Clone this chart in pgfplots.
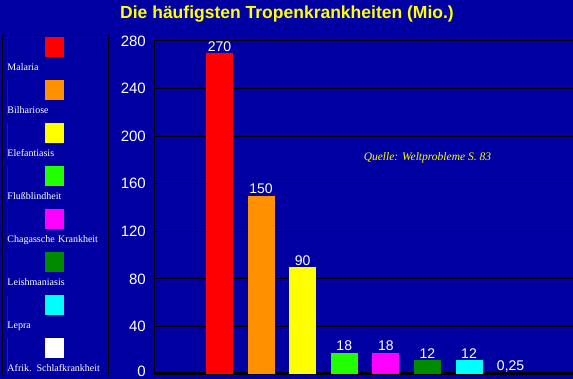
\documentclass[border=0pt]{standalone}
\usepackage{pgfplots}
\pgfplotsset{compat=1.18}
\usepackage{fontspec}
\setmainfont{Liberation Sans}
\newfontfamily\serif{Liberation Serif}
\definecolor{bg}{HTML}{0000A2}
\definecolor{cRed}{HTML}{FF0000}
\definecolor{cOrange}{HTML}{FF9100}
\definecolor{cYellow}{HTML}{FFFF00}
\definecolor{cGreen}{HTML}{22FF00}
\definecolor{cMagenta}{HTML}{FF00FF}
\definecolor{cDGreen}{HTML}{008A00}
\definecolor{cCyan}{HTML}{00FFFF}
\definecolor{cWhite}{HTML}{FFFFFF}
\pgfplotsset{
  leg/.style={legend image code/.code={%
      \path (0pt,-4.5pt) -- (0pt,31pt);
      \fill[##1,draw=none,overlay] (38pt,11pt) rectangle (57pt,31pt);}},
  barstyle/.style={fill=#1, draw=none, bar width=27pt, bar shift=0pt, leg},
}
\begin{document}
\begin{tikzpicture}[x=1pt,y=1pt]
\useasboundingbox (0,0) rectangle (573,379);
\fill[bg] (0,0) rectangle (573,379);
\node[text=cYellow, font=\bfseries\fontsize{17.5}{20}\selectfont] at (287,364.5) {Die häufigsten Tropenkrankheiten (Mio.)};
\begin{axis}[
  at={(154pt,5pt)}, anchor=south west,
  scale only axis, width=419pt, height=333pt,
  xmin=-1.575, xmax=8.5, ymin=0, ymax=280,
  ybar,
  ytick={0,40,...,280}, xtick=\empty,
  yticklabels={\raisebox{4.5pt}{0},40,80,120,160,200,240,280},
  major tick length=0pt,
  ymajorgrids, grid style={black, line width=1pt},
  axis x line=bottom, axis y line=left,
  x axis line style={-, black, line width=3pt},
  y axis line style={-, black, line width=1pt},
  /pgf/number format/assume math mode=true,
  yticklabel style={text=white, font=\fontsize{15}{17}\selectfont, inner sep=0pt, xshift=-8pt},
  nodes near coords,
  nodes near coords style={text=white, font=\fontsize{14}{16}\selectfont, inner sep=1.5pt,
    /pgf/number format/.cd, use comma, fixed, assume math mode=true},
  legend style={at={(0,1)}, anchor=north west, xshift=-152pt, yshift=6pt,
    fill=bg, draw=black, line width=1pt, inner xsep=5pt, inner ysep=2pt,
    row sep=7.5pt, column sep=0pt,
    cells={anchor=west},
    nodes={inner sep=0pt, text width=96pt, text height=7pt, text depth=2pt,
      text=white, font=\serif\fontsize{10}{11}\selectfont}},
]
\addplot[barstyle=cRed] coordinates {(0,270)};
\addlegendentry{Malaria}
\addplot[barstyle=cOrange] coordinates {(1,150)};
\addlegendentry{Bilhariose}
\addplot[barstyle=cYellow] coordinates {(2,90)};
\addlegendentry{Elefantiasis}
\addplot[barstyle=cGreen] coordinates {(3,18)};
\addlegendentry{Flußblindheit}
\addplot[barstyle=cMagenta] coordinates {(4,18)};
\addlegendentry{Chagassche Krankheit}
\addplot[barstyle=cDGreen] coordinates {(5,12)};
\addlegendentry{Leishmaniasis}
\addplot[barstyle=cCyan] coordinates {(6,12)};
\addlegendentry{Lepra}
\addplot[barstyle=cWhite] coordinates {(7,0.25)};
\addlegendentry{Afrik. Schlafkrankheit}
\node[text=cYellow, font=\serif\itshape\fontsize{11.5}{13}\selectfont] at (axis cs:5.0,182) {Quelle: Weltprobleme S. 83};
\end{axis}
\end{tikzpicture}
\end{document}
